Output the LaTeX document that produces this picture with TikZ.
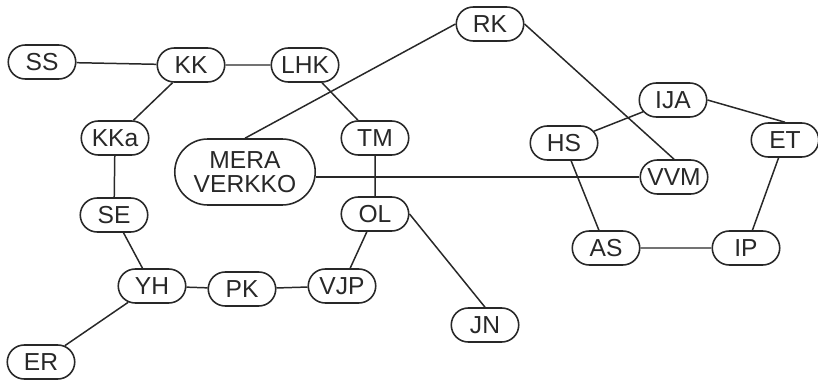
\documentclass[tikz,border=0pt]{standalone}
\usepackage{fontspec}
\setmainfont{Liberation Sans}
\usetikzlibrary{shapes.misc}
\definecolor{colLine}{RGB}{40,40,40}
\tikzset{
  stn/.style    = {draw=colLine, rounded rectangle, line width=0.9pt,
                   font=\fontsize{14}{13.6}\selectfont, text=colLine,
                   inner sep=1pt, minimum width=1.42cm, minimum height=0.68cm},
  bigstn/.style = {stn, align=center, minimum width=2.88cm, minimum height=1.32cm},
  link/.style   = {draw=colLine, line width=0.85pt},
}

\begin{document}
\begin{tikzpicture}[x=0.02cm, y=-0.02cm]
\useasboundingbox (0,0) rectangle (818,385);

%% ── left ring ───────────────────────────────────────────────────────────────
\node[stn] (ss)  at (42,62)   {SS};
\node[stn] (kk)  at (191,65)  {KK};
\node[stn] (lhk) at (305,65)  {LHK};
\node[stn] (kka) at (115,138) {KKa};
\node[stn] (tm)  at (375,138) {TM};
\node[stn] (se)  at (114,215) {SE};
\node[stn] (ol)  at (375,214) {OL};
\node[stn] (yh)  at (152,286) {YH};
\node[stn] (pk)  at (242,289) {PK};
\node[stn] (vjp) at (342,286) {VJP};
\node[stn] (jn)  at (485,325) {JN};
\node[stn] (er)  at (41,362)  {ER};

%% ── centre ──────────────────────────────────────────────────────────────────
\node[bigstn] (mera) at (245,172) {MERA\\VERKKO};
\node[stn]    (rk)   at (490,24)  {RK};
\node[stn]    (vvm)  at (674,177) {VVM};

%% ── right ring ──────────────────────────────────────────────────────────────
\node[stn] (ija) at (673,100) {IJA};
\node[stn] (hs)  at (564,143) {HS};
\node[stn] (et)  at (785,140) {ET};
\node[stn] (as)  at (606,248) {AS};
\node[stn] (ip)  at (746,248) {IP};

%% ── links, left ring ────────────────────────────────────────────────────────
\draw[link] (ss)  -- (kk);
\draw[link] (kk)  -- (lhk);
\draw[link] (kk)  -- (kka);
\draw[link] (lhk) -- (tm);
\draw[link] (kka) -- (se);
\draw[link] (tm)  -- (ol);
\draw[link] (se)  -- (yh);
\draw[link] (yh)  -- (pk);
\draw[link] (pk)  -- (vjp);
\draw[link] (vjp) -- (ol);
\draw[link] (ol.east) -- (jn.north);
\draw[link] (yh)  -- (er);

%% ── links, centre ───────────────────────────────────────────────────────────
\draw[link] (rk.west) -- (mera.north);
\draw[link] (rk.east) -- (vvm.north);
\draw[link] (vvm.west) -- (vvm.west -| mera.east);

%% ── links, right ring ───────────────────────────────────────────────────────
\draw[link] (ija) -- (hs);
\draw[link] (ija.east) -- (et.north);
\draw[link] (hs)  -- (as);
\draw[link] (as)  -- (ip);
\draw[link] (ip)  -- (et);

\end{tikzpicture}
\end{document}
